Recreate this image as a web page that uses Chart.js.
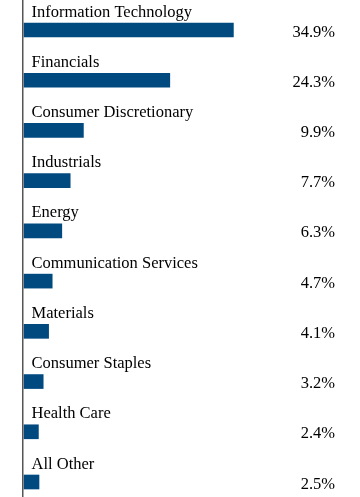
<!DOCTYPE html>
<html>
<head>
  <script src="https://cdn.jsdelivr.net/npm/chart.js"></script>
  <style>
    html, body { margin: 0; padding: 0; background: #fff; }
    #wrap { width: 360px; height: 497px; }
  </style>
</head>
<body>

<div id="wrap"><canvas id="chart"></canvas></div>

<script>
const sectors = ["Information Technology", "Financials", "Consumer Discretionary", "Industrials",
  "Energy", "Communication Services", "Materials", "Consumer Staples", "Health Care", "All Other"];
const weights = [34.9, 24.3, 9.9, 7.7, 6.3, 4.7, 4.1, 3.2, 2.4, 2.5];
const valueLabels = ["34.9%", "24.3%", "9.9%", "7.7%", "6.3%", "4.7%", "4.1%", "3.2%", "2.4%", "2.5%"];

const font = '16.5px "Liberation Serif", "Times New Roman", Times, serif';

// category names above bars, values on the right, and the left axis line
const labelsPlugin = {
  id: "labels",
  afterDatasetsDraw(chart) {
    const ctx = chart.ctx;
    const area = chart.chartArea;
    const y = chart.scales.y;
    ctx.save();
    ctx.strokeStyle = "#555";
    ctx.lineWidth = 1.5;
    ctx.beginPath();
    ctx.moveTo(area.left - 1.25, 0);
    ctx.lineTo(area.left - 1.25, chart.height);
    ctx.stroke();

    ctx.font = font;
    ctx.fillStyle = "#000";
    ctx.textBaseline = "alphabetic";
    sectors.forEach((s, i) => {
      const cy = y.getPixelForValue(i);
      ctx.textAlign = "left";
      ctx.fillText(s, area.left + 7.5, cy - 13.5);
      ctx.textAlign = "right";
      ctx.fillText(valueLabels[i], 335, cy + 6.5);
    });
    ctx.restore();
  }
};

function draw() {
  new Chart(document.getElementById("chart"), {
    type: "bar",
    data: {
      labels: sectors,
      datasets: [{
        data: weights,
        backgroundColor: "#004a80",
        barThickness: 14,
        clip: false
      }]
    },
    options: {
      indexAxis: "y",
      responsive: true,
      maintainAspectRatio: false,
      animation: false,
      layout: { padding: { left: 24, right: 36, top: 30, bottom: 15 } },
      plugins: { legend: { display: false }, tooltip: { enabled: false } },
      scales: {
        x: { display: false, min: 0, max: 50 },
        y: { display: false, offset: false }
      }
    },
    plugins: [labelsPlugin]
  });
}

document.fonts.load(font).then(draw, draw);
</script>

</body>
</html>
